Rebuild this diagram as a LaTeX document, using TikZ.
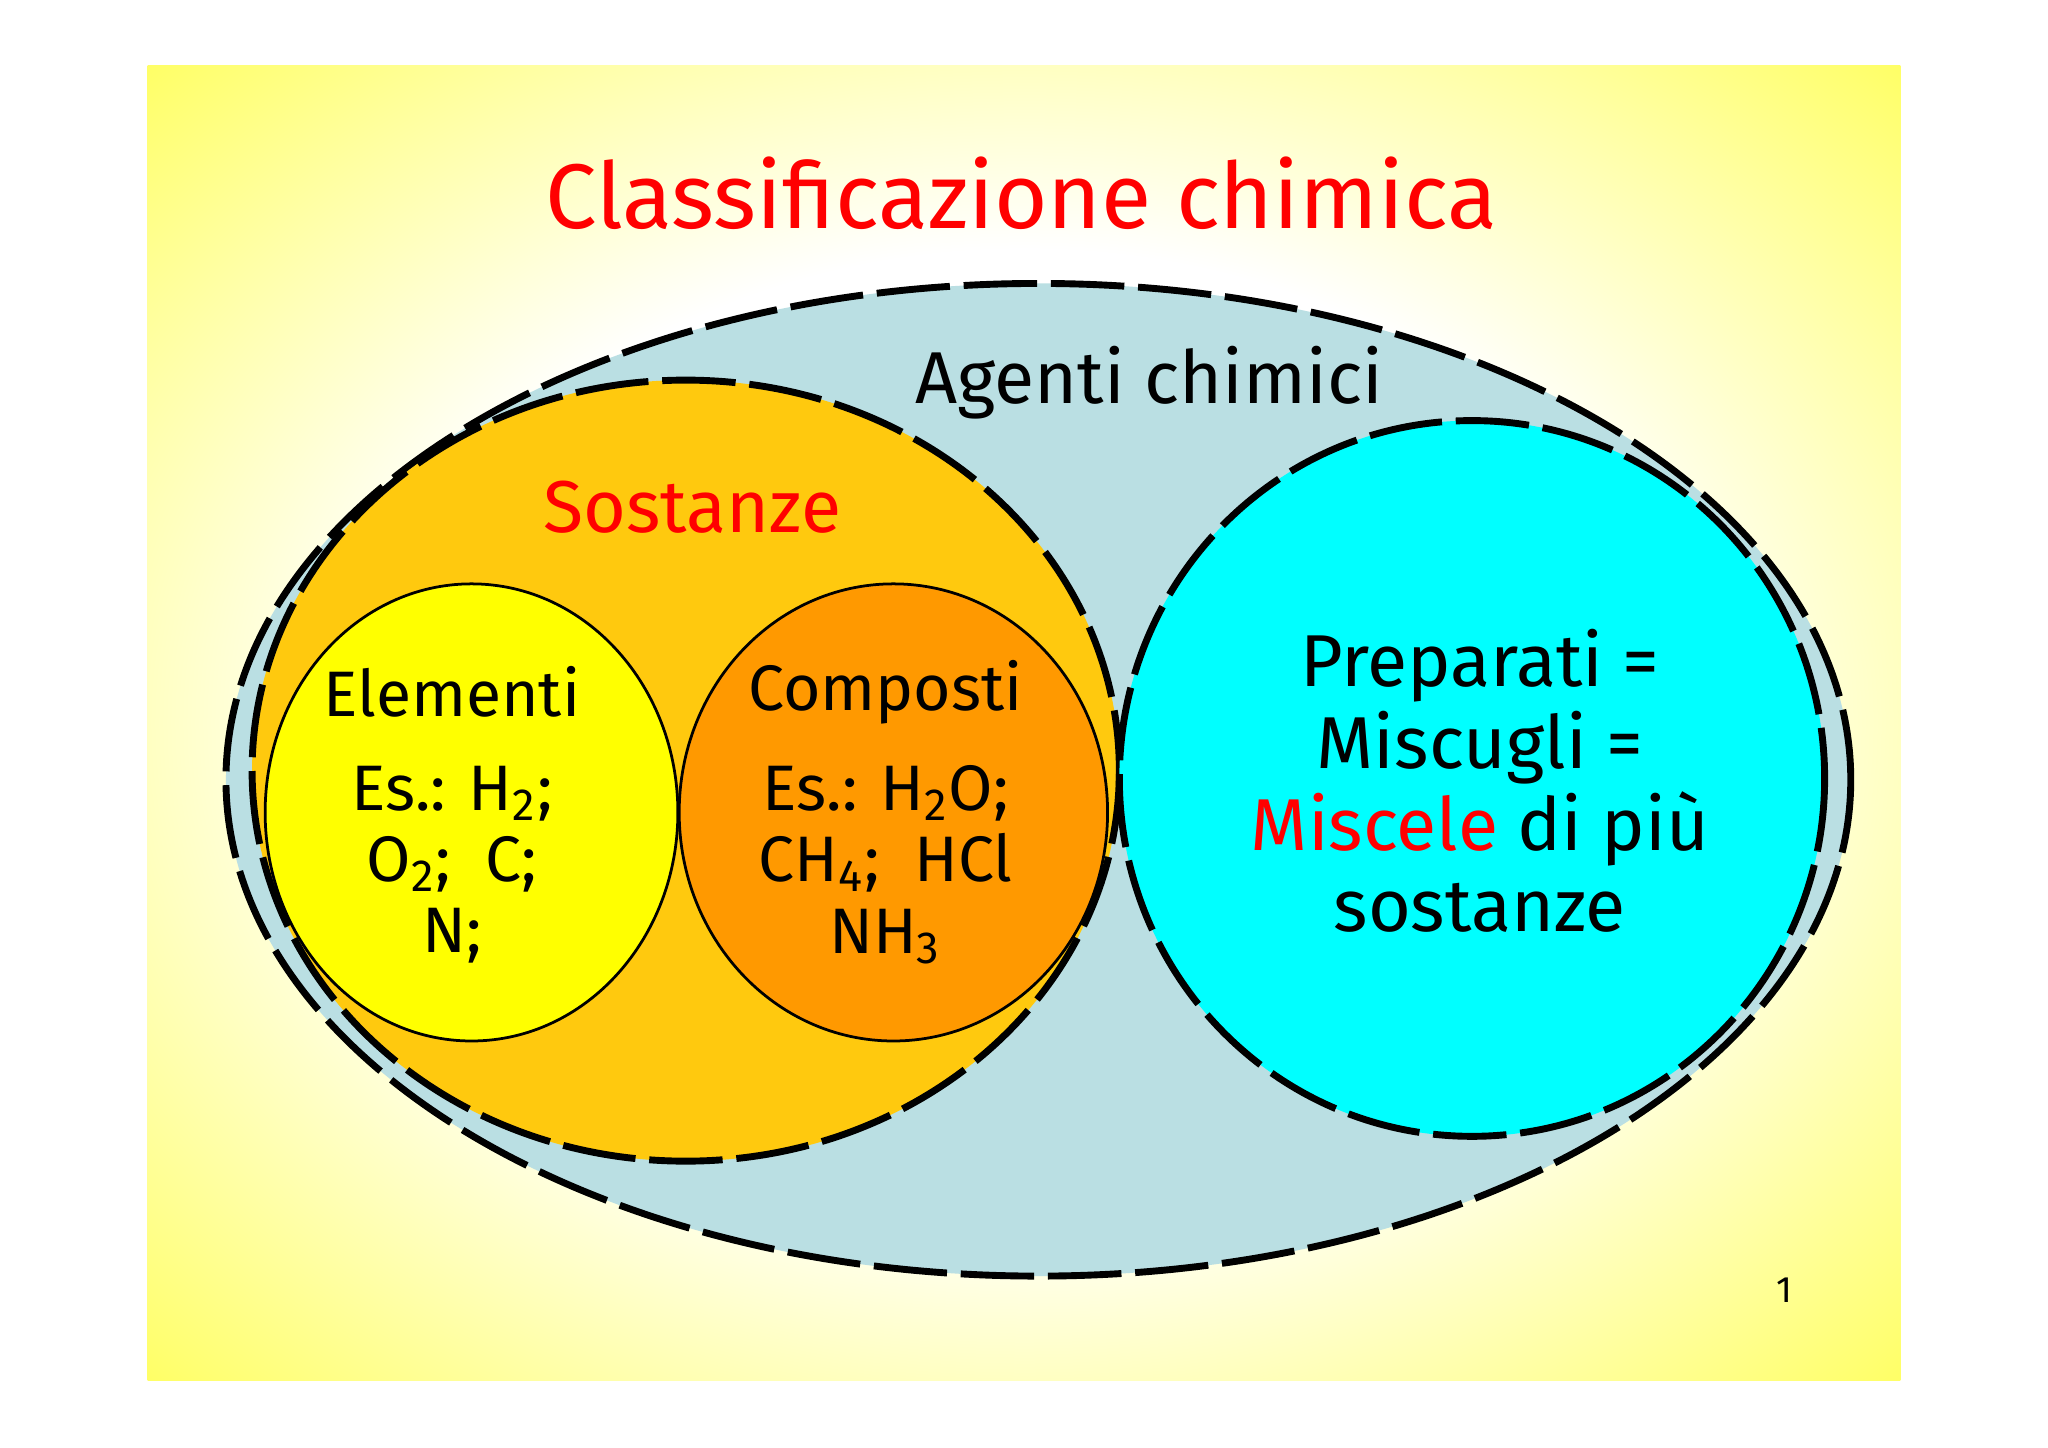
\documentclass[tikz,border=0pt]{standalone}
\usepackage{fontspec}
\setmainfont{Fira Sans}
\pgfdeclareradialshading{bgshade}{\pgfpoint{0bp}{0bp}}{color(0bp)=(white); color(18bp)=(white); color(34bp)=(yellow!55!white); color(46bp)=(yellow); color(100bp)=(yellow)}
\begin{document}
\begin{tikzpicture}[x=0.01cm,y=-0.01cm,
  dsh/.style={draw=black,line width=1.5pt,dash pattern=on 16pt off 3pt},
  inner/.style={draw=black,line width=0.6pt},
  txt/.style={font=\fontsize{16}{20}\selectfont,align=center}]
\useasboundingbox (0,0) rectangle (1568,1108);
\fill[white] (0,0) rectangle (1568,1108);
\shade[shading=bgshade] (113,50) rectangle (1455,1057);
\node[font=\fontsize{20}{24}\selectfont,text=red] (title) at (782,148) {Classificazione chimica};
\draw[dsh,fill={rgb,255:red,186;green,223;blue,227}] (795,597) ellipse [x radius=622,y radius=380];
\draw[dsh,fill={rgb,255:red,255;green,201;blue,14}] (525,590) ellipse [x radius=332,y radius=299];
\draw[dsh,fill={rgb,255:red,0;green,255;blue,255}] (1127,596) ellipse [x radius=270,y radius=274];
\draw[inner,fill={rgb,255:red,255;green,255;blue,0}] (361,622) ellipse [x radius=158,y radius=175];
\draw[inner,fill={rgb,255:red,255;green,153;blue,0}] (684,622) ellipse [x radius=164,y radius=175];
\node[txt] (ag) at (880,293) {Agenti chimici};
\node[txt,text=red] (so) at (530,388) {Sostanze};
\node[txt,font=\fontsize{14}{18}\selectfont] (el) at (346,530) {Elementi};
\node[txt,font=\fontsize{14}{18}\selectfont] (co) at (678,530) {Composti};
\node[txt,font=\fontsize{14}{15.5}\selectfont] (ele) at (346,662) {Es.: H\textsubscript{2};\\O\textsubscript{2}; \ C;\\N;};
\node[txt,font=\fontsize{14}{15.5}\selectfont] (coe) at (678,662) {Es.: H\textsubscript{2}O;\\CH\textsubscript{4}; \ HCl\\NH\textsubscript{3}};
\node[txt,font=\fontsize{16}{17.8}\selectfont] (pr) at (1133,598) {Preparati =\\Miscugli =\\\textcolor{red}{Miscele} di più\\sostanze};
\node[font=\fontsize{8}{10}\selectfont] (pg) at (1366,988) {1};
\end{tikzpicture}
\end{document}
